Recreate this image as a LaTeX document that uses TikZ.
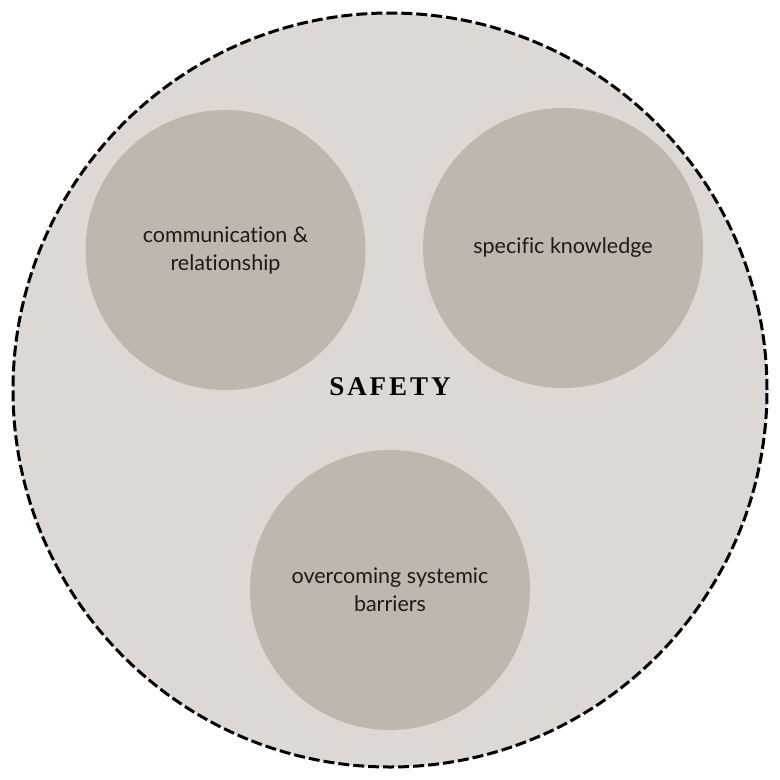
\documentclass[tikz,border=0pt]{standalone}
\usepackage{fontspec}
\setmainfont{Lato}[Ligatures={NoCommon}]
\newfontfamily\titlefont[LetterSpace=11]{Liberation Serif}
\definecolor{outerfill}{HTML}{DDD8D4}
\definecolor{innerfill}{HTML}{BFB6AD}
\definecolor{txt}{HTML}{1E1A18}
\begin{document}
\begin{tikzpicture}[x=1pt,y=-1pt,
  outer/.style={circle,fill=outerfill,draw=black,line width=3pt,dash pattern=on 11pt off 4pt,minimum size=754pt,inner sep=0pt},
  inner/.style={circle,fill=innerfill,minimum size=280pt,inner sep=0pt,align=center,text=txt,font=\fontsize{21.5}{28}\selectfont},
  title/.style={font=\titlefont\bfseries\fontsize{27}{30}\selectfont,text=black}]
\useasboundingbox (0,0) rectangle (780,780);
\fill[white] (0,0) rectangle (780,780);
\node[outer] (safetycircle) at (390,390) {};
\node[inner] (comm) at (225.5,250) {communication \&\\relationship};
\node[inner] (know) at (563,248) {specific knowledge};
\node[inner] (barr) at (390,590) {overcoming systemic\\barriers};
\node[title] (safety) at (390,387) {SAFETY};
\end{tikzpicture}
\end{document}
